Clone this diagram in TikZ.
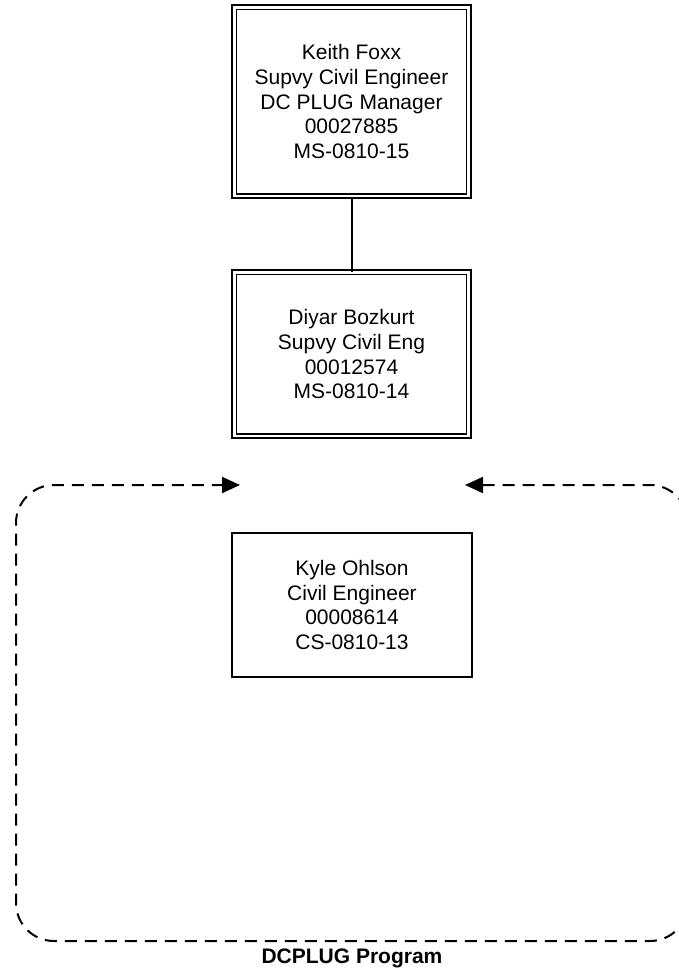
\documentclass[tikz,border=0pt]{standalone}
\usepackage{fontspec}
\setmainfont{Liberation Sans}
\usetikzlibrary{arrows.meta}
\begin{document}
\begin{tikzpicture}[x=1pt,y=-1pt,
  txt/.style={font=\fontsize{21}{24.75}\selectfont, align=center, inner sep=0pt},
  dblbox/.style={txt, draw, double, line width=1.6pt, double distance=2.8pt, minimum width=234.6pt},
  sglbox/.style={txt, draw, line width=2pt, minimum width=240pt, minimum height=144pt},
  conn/.style={line width=2pt},
  loopline/.style={line width=2pt, dash pattern=on 12pt off 8pt, rounded corners=38pt,
    {Triangle[length=18pt,width=16pt]}-{Triangle[length=18pt,width=16pt]}}
]
\useasboundingbox (0,0) rectangle (679,972);
\node[dblbox, minimum height=188.5pt] (kf) at (351.5,101.7)
  {Keith Foxx\\Supvy Civil Engineer\\DC PLUG Manager\\00027885\\MS-0810-15};
\node[dblbox, minimum height=163.5pt] (db) at (351.5,354.2)
  {Diyar Bozkurt\\Supvy Civil Eng\\00012574\\MS-0810-14};
\node[sglbox] (ko) at (352,605)
  {Kyle Ohlson\\Civil Engineer\\00008614\\CS-0810-13};
\draw[conn] (kf.south) -- (db.north);
\coordinate (ra) at (465,485);
\coordinate (la) at (240,485);
\draw[loopline] (ra) -- (688,485) -- (688,941) -- (16,941) -- (16,485) -- (la);
\node[font=\fontsize{21}{24}\selectfont\bfseries, anchor=base, inner sep=0pt] (lbl) at (352,963) {DCPLUG Program};
\end{tikzpicture}
\end{document}
